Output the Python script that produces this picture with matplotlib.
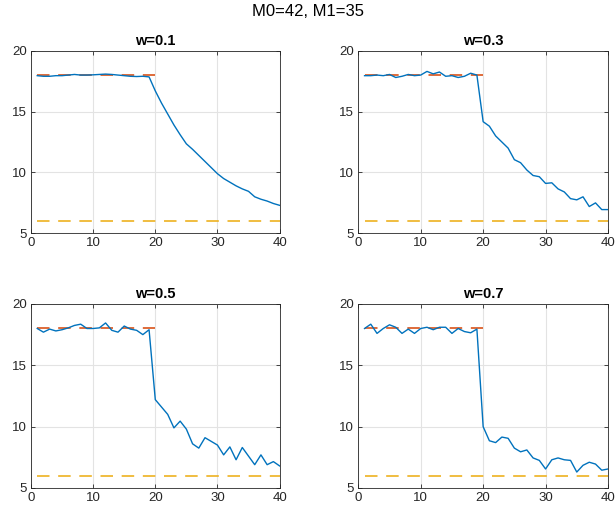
import numpy as np
import matplotlib
matplotlib.use("Agg")
import matplotlib.pyplot as plt

plt.rcParams['font.family'] = ['Liberation Sans', 'DejaVu Sans']

x = np.arange(1, 41)
titles = ["w=0.1", "w=0.3", "w=0.5", "w=0.7"]
y_w01 = [17.95, 17.9, 17.9, 17.95, 17.95, 18.0, 18.05, 18.0, 18.0, 18.02,
         18.05, 18.08, 18.05, 18.0, 17.95, 17.9, 17.88, 17.9, 17.85, 16.7,
         15.7, 14.8, 13.9, 13.1, 12.35, 11.9, 11.4, 10.9, 10.4, 9.9,
         9.5, 9.2, 8.9, 8.65, 8.45, 8.0, 7.8, 7.65, 7.45, 7.3]
y_w03 = [17.95, 17.95, 18.0, 17.95, 18.05, 17.8, 17.9, 18.05, 17.95, 18.0,
         18.3, 18.1, 18.25, 17.9, 17.95, 17.8, 17.9, 18.15, 18.0, 14.17,
         13.8, 13.0, 12.5, 12.0, 11.05, 10.8, 10.2, 9.75, 9.65, 9.1,
         9.15, 8.65, 8.4, 7.85, 7.75, 8.0, 7.2, 7.5, 6.95, 6.95]
y_w05 = [18.0, 17.7, 17.95, 17.8, 17.9, 18.05, 18.25, 18.35, 18.0, 18.0,
         18.05, 18.45, 17.85, 17.7, 18.2, 17.95, 17.85, 17.5, 17.9, 12.2,
         11.6, 11.0, 9.9, 10.45, 9.8, 8.6, 8.25, 9.1, 8.8, 8.5,
         7.7, 8.35, 7.3, 8.3, 7.6, 6.9, 7.7, 6.9, 7.15, 6.8]
y_w07 = [18.0, 18.35, 17.6, 18.0, 18.3, 18.1, 17.6, 17.95, 17.6, 18.0,
         18.1, 17.9, 18.1, 18.1, 17.6, 18.0, 17.75, 17.65, 17.95, 10.0,
         8.85, 8.7, 9.15, 9.05, 8.25, 7.95, 8.1, 7.45, 7.25, 6.55,
         7.3, 7.45, 7.3, 7.25, 6.3, 6.85, 7.1, 6.95, 6.45, 6.55]
series = [y_w01, y_w03, y_w05, y_w07]
level_m0 = 18
level_m1 = 6
change_at = 20

positions = [[0.0504, 0.5487, 0.4042, 0.3532],
             [0.5826, 0.5487, 0.4060, 0.3532],
             [0.0504, 0.0561, 0.4042, 0.3560],
             [0.5826, 0.0561, 0.4060, 0.3560]]

fig = plt.figure(figsize=(6.15, 5.17), dpi=100)
fig.text(0.5, 0.977, "M0=42, M1=35", ha='center', va='center', fontsize=12)

for pos, title, ys in zip(positions, titles, series):
    ax = fig.add_axes(pos)
    ax.plot(x, ys, color='#0072BD', lw=1.0, zorder=3)
    ax.plot([1, change_at], [level_m0, level_m0], color='#D95319', lw=1.2,
            dashes=(7.5, 5.2), zorder=2)
    ax.plot([1, 40], [level_m1, level_m1], color='#EDB120', lw=1.2,
            dashes=(7.5, 5.2), zorder=2)
    ax.set_xlim(0, 40)
    ax.set_ylim(5, 20)
    ax.set_xticks([0, 10, 20, 30, 40])
    ax.set_yticks([5, 10, 15, 20])
    ax.grid(True, color='#e3e3e3', lw=0.8)
    ax.set_axisbelow(True)
    ax.tick_params(direction='in', top=True, right=True, labelsize=9.5,
                   length=3, width=0.6, colors='#262626', pad=3)
    for sp in ax.spines.values():
        sp.set_color('#262626')
        sp.set_linewidth(0.6)
    ax.set_title(title, fontsize=10.5, fontweight='bold', pad=4)

fig.savefig("out.png", dpi=100)
